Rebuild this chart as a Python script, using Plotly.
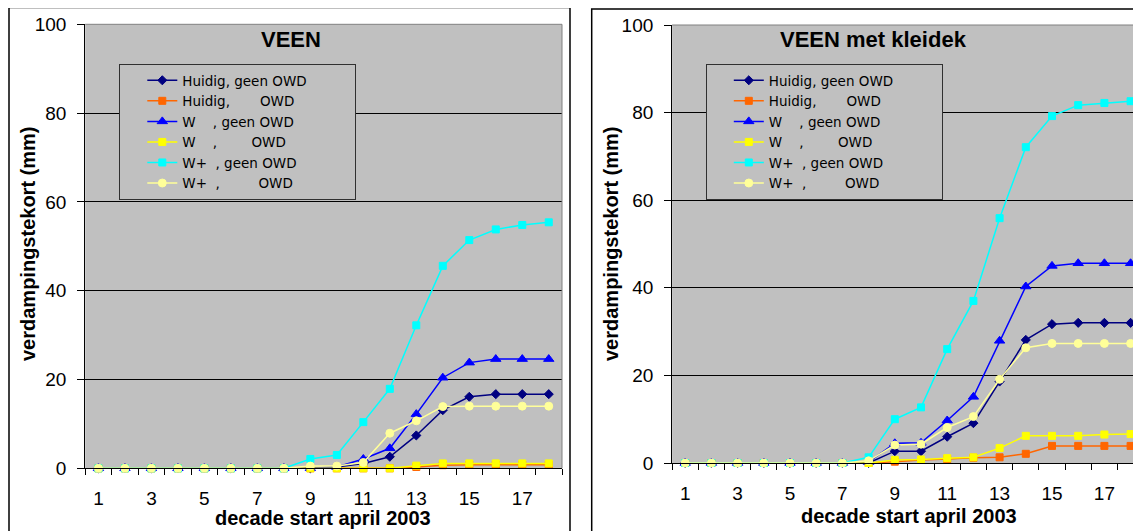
import plotly.graph_objects as go

# page body has an 8px default margin: figure is sized to fill the rest of the window
OFF = 8
W, H = 1141 - OFF, 531 - OFF

decades = [1, 2, 3, 4, 5, 6, 7, 8, 9, 10, 11, 12, 13, 14, 15, 16, 17, 18]
tick_values = [1, 3, 5, 7, 9, 11, 13, 15, 17]
tick_labels = ["1", "3", "5", "7", "9", "11", "13", "15", "17"]

NB = "\u00a0"
series_names = [
    "Huidig, geen OWD",
    "Huidig," + NB * 7 + "OWD",
    "W" + NB * 4 + ", geen OWD",
    "W" + NB * 4 + "," + NB * 8 + "OWD",
    "W+" + NB * 2 + ", geen OWD",
    "W+" + NB * 2 + "," + NB * 9 + "OWD",
]
# trailing padding so the legend box gets the reference's width
legend_pad = NB * 10

# VEEN
veen_huidig_geen = [0, 0, 0, 0, 0, 0, 0, 0, 0, 0.3, 1.1, 2.6, 7.4, 13.1, 16.1, 16.7, 16.7, 16.7]
veen_huidig_owd = [0, 0, 0, 0, 0, 0, 0, 0, 0, 0, 0, 0, 0.3, 0.7, 0.8, 0.8, 0.8, 0.8]
veen_w_geen = [0, 0, 0, 0, 0, 0, 0, 0, 0, 0.3, 2.1, 4.5, 12.2, 20.4, 23.8, 24.6, 24.6, 24.6]
veen_w_owd = [0, 0, 0, 0, 0, 0, 0, 0, 0, 0, 0, 0, 0.6, 1.1, 1.1, 1.1, 1.1, 1.1]
veen_wplus_geen = [0, 0, 0, 0, 0, 0, 0, 0, 2.1, 3.0, 10.4, 17.9, 32.2, 45.6, 51.4, 53.8, 54.8, 55.4]
veen_wplus_owd = [0, 0, 0, 0, 0, 0, 0, 0, 0.5, 0.5, 1.3, 7.9, 10.7, 13.9, 14.0, 14.0, 14.0, 14.0]

# VEEN met kleidek
klei_huidig_geen = [0, 0, 0, 0, 0, 0, 0, 0, 2.7, 2.7, 6.0, 9.1, 18.6, 28.1, 31.7, 32.0, 32.0, 32.0]
klei_huidig_owd = [0, 0, 0, 0, 0, 0, 0, 0, 0.3, 0.7, 0.9, 1.2, 1.3, 2.1, 3.9, 3.9, 3.9, 3.9]
klei_w_geen = [0, 0, 0, 0, 0, 0, 0, 0.2, 4.5, 4.6, 9.7, 15.1, 27.9, 40.3, 45.0, 45.6, 45.6, 45.6]
klei_w_owd = [0, 0, 0, 0, 0, 0, 0, 0, 0.7, 0.8, 1.1, 1.3, 3.4, 6.2, 6.2, 6.2, 6.5, 6.6]
klei_wplus_geen = [0, 0, 0, 0, 0, 0, 0, 1.3, 10.0, 12.7, 26.0, 37.0, 55.9, 72.1, 79.2, 81.7, 82.2, 82.6]
klei_wplus_owd = [0, 0, 0, 0, 0, 0, 0, 0.5, 4.1, 4.3, 8.1, 10.6, 19.1, 26.3, 27.3, 27.3, 27.3, 27.3]

colors = ["#000080", "#FF6600", "#0000FF", "#FFFF00", "#00FFFF", "#FFFF99"]
symbols = ["diamond", "square", "triangle-up", "square", "square", "circle"]
sizes = [7, 7, 9, 7, 7, 8]

panels = [
    ("x", "y", "legend", [veen_huidig_geen, veen_huidig_owd, veen_w_geen,
                          veen_w_owd, veen_wplus_geen, veen_wplus_owd]),
    ("x2", "y2", "legend2", [klei_huidig_geen, klei_huidig_owd, klei_w_geen,
                             klei_w_owd, klei_wplus_geen, klei_wplus_owd]),
]

fig = go.Figure()
for xa, ya, lg, series in panels:
    for i, vals in enumerate(series):
        name = series_names[i] + (legend_pad if i == 0 else "")
        fig.add_trace(go.Scatter(
            x=decades, y=vals, name=name, mode="lines+markers",
            line=dict(color=colors[i], width=1.5),
            marker=dict(symbol=symbols[i], size=sizes[i], color=colors[i],
                        line=dict(color=colors[i], width=1)),
            xaxis=xa, yaxis=ya, legend=lg, cliponaxis=False,
        ))

FONT = "Liberation Sans, Arial, sans-serif"


def px_x(v):
    return (v - OFF) / W


def px_y(v):
    return 1 - (v - OFF) / H


def xaxis_cfg(domain, rng):
    return dict(
        domain=domain, range=rng, tickmode="array", tickvals=tick_values,
        ticktext=tick_labels, ticks="", showgrid=False, zeroline=False, automargin=False,
        showline=True, linecolor="black", linewidth=1,
        tickfont=dict(family=FONT, size=19, color="black"), ticklabelstandoff=13,
        minor=dict(tickmode="linear", tick0=0.5, dtick=1, ticks="outside",
                   ticklen=6, tickcolor="black", tickwidth=1, showgrid=False),
    )


def yaxis_cfg(domain, anchor):
    return dict(
        domain=domain, anchor=anchor, range=[0, 100], tickmode="linear", tick0=0, dtick=20,
        ticks="outside", ticklen=7, tickcolor="black", showgrid=True, gridcolor="black",
        gridwidth=1, zeroline=False, showline=True, linecolor="black", linewidth=1,
        automargin=False,
        tickfont=dict(family=FONT, size=19, color="black"), ticklabelstandoff=7,
    )


xd1 = [px_x(85.2), px_x(562)]
yd1 = [px_y(468.3), px_y(24.3)]
xd2 = [px_x(672.1), 1.0]
yd2 = [px_y(463), px_y(25)]

leg_common = dict(xanchor="left", yanchor="top", bgcolor="#C0C0C0", bordercolor="#303030",
                  borderwidth=1, font=dict(family="DejaVu Sans", size=13.5, color="black"),
                  tracegroupgap=0, indentation=22)

fig.update_layout(
    width=W, height=H, autosize=False,
    margin=dict(l=0, r=0, t=0, b=0, pad=0, autoexpand=False),
    paper_bgcolor="white", plot_bgcolor="#C0C0C0",
    font=dict(family=FONT, color="black"),
    showlegend=True,
    xaxis=dict(anchor="y", **xaxis_cfg(xd1, [0.5, 18.5])),
    yaxis=yaxis_cfg(yd1, "x"),
    xaxis2=dict(anchor="y2", **xaxis_cfg(xd2, [0.5, 0.5 + (1141 - 672.1) / 26.2])),
    yaxis2=yaxis_cfg(yd2, "x2"),
    legend=dict(x=px_x(119.3), y=px_y(64), **leg_common),
    legend2=dict(x=px_x(705.8), y=px_y(64), **leg_common),
)

title_font = dict(family=FONT, size=22, color="black", weight="bold")
axis_font = dict(family=FONT, size=20, color="black", weight="bold")
annotations = [
    dict(text="VEEN", x=px_x(291), y=px_y(39), font=title_font),
    dict(text="VEEN met kleidek", x=px_x(873), y=px_y(39), font=title_font),
    dict(text="decade start april 2003", x=px_x(323), y=px_y(518), font=axis_font),
    dict(text="decade start april 2003", x=px_x(909), y=px_y(516), font=axis_font),
    dict(text="verdampingstekort (mm)", x=px_x(28), y=px_y(244), textangle=-90, font=axis_font),
    dict(text="verdampingstekort (mm)", x=px_x(611), y=px_y(244), textangle=-90, font=axis_font),
]
for a in annotations:
    a.update(xref="paper", yref="paper", showarrow=False, xanchor="center", yanchor="middle")
fig.update_layout(annotations=annotations)

shapes = [
    dict(type="rect", xref="paper", yref="paper", x0=px_x(9), x1=px_x(570), y0=-0.1, y1=px_y(7.5),
         line=dict(color="black", width=1.5), layer="above"),
    dict(type="rect", xref="paper", yref="paper", x0=px_x(591.7), x1=1.1, y0=-0.1, y1=px_y(9),
         line=dict(color="black", width=1.5), layer="above"),
    dict(type="line", xref="x domain", yref="y domain", x0=0, x1=1, y0=1, y1=1,
         line=dict(color="#808080", width=1), layer="above"),
    dict(type="line", xref="x domain", yref="y domain", x0=1, x1=1, y0=0, y1=1,
         line=dict(color="#808080", width=1), layer="above"),
    dict(type="line", xref="x2 domain", yref="y2 domain", x0=0, x1=1, y0=1, y1=1,
         line=dict(color="#808080", width=1), layer="above"),
]
fig.update_layout(shapes=shapes)

fig.write_html("out.html")
